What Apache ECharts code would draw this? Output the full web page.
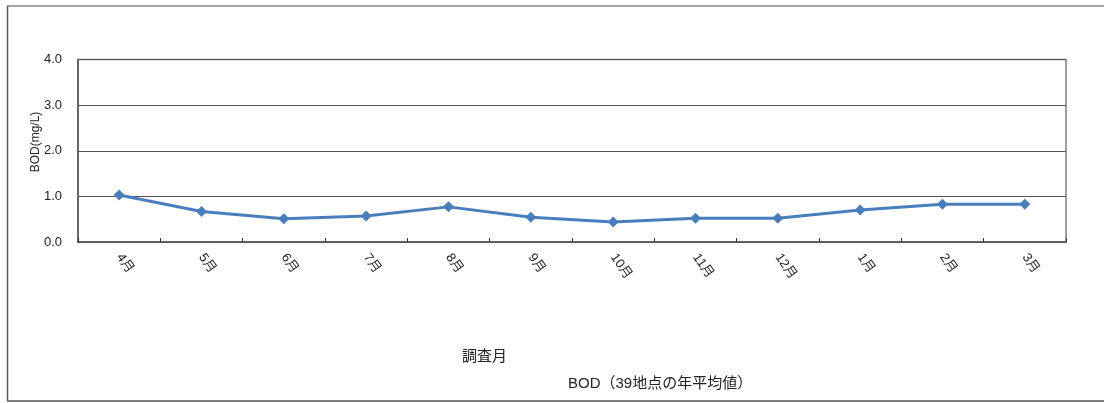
<!DOCTYPE html>
<html>
<head>
<meta charset="utf-8">
<script src="https://cdn.jsdelivr.net/npm/echarts@6/dist/echarts.min.js"></script>
<style>
  html, body { margin: 0; padding: 0; background: #fff; }
  #chart { width: 1104px; height: 403px; }
</style>
</head>
<body>
<div id="chart"></div>
<script>
// Survey months (April through March)
const months = ['4月', '5月', '6月', '7月', '8月', '9月', '10月', '11月', '12月', '1月', '2月', '3月'];
// Monthly BOD, average of 39 sites (mg/L)
const bodValues = [1.03, 0.67, 0.51, 0.57, 0.77, 0.54, 0.44, 0.52, 0.52, 0.70, 0.83, 0.83];
// Value axis ticks
const yMin = 0, yMax = 4, yStep = 1;

const font = '"Liberation Sans", "Noto Sans CJK JP", sans-serif';
const chart = echarts.init(document.getElementById('chart'), null, { renderer: 'canvas' });

chart.setOption({
  backgroundColor: '#fff',
  animation: false,
  textStyle: { fontFamily: font },
  title: [
    {
      text: '調査月', left: 457, top: 344,
      textStyle: { fontSize: 15, fontWeight: 'normal', color: '#222', fontFamily: font }
    },
    {
      text: 'BOD（39地点の年平均値）', left: 563, top: 371,
      textStyle: { fontSize: 15, fontWeight: 'normal', color: '#222', fontFamily: font }
    }
  ],
  grid: {
    left: 78, top: 59.5, right: 38, bottom: 161,
    show: true, borderColor: '#7f7f7f', borderWidth: 1.5, backgroundColor: 'transparent'
  },
  xAxis: {
    type: 'category',
    data: months,
    boundaryGap: true,
    axisLine: { show: true, lineStyle: { color: '#555', width: 1.5 } },
    axisTick: { show: true, inside: true, length: 4, lineStyle: { color: '#333' } },
    axisLabel: {
      rotate: -55, margin: 13, fontSize: 13, color: '#222', fontFamily: font
    }
  },
  yAxis: {
    type: 'value',
    min: yMin, max: yMax, interval: yStep,
    axisLine: { show: true, lineStyle: { color: '#555', width: 1.5 } },
    axisTick: { show: false },
    axisLabel: {
      margin: 16, fontSize: 13, color: '#222', fontFamily: font,
      formatter: v => v.toFixed(1)
    },
    splitLine: { show: true, lineStyle: { color: '#555', width: 1 } }
  },
  series: [{
    type: 'line',
    data: bodValues,
    symbol: 'diamond',
    symbolSize: 11,
    lineStyle: { color: '#4a7ebb', width: 3 },
    itemStyle: { color: '#4a7ebb' },
    z: 5
  }],
  graphic: [
    // value axis title
    {
      type: 'text', x: 36, y: 142, rotation: Math.PI / 2,
      style: {
        text: 'BOD(mg/L)', fill: '#222', font: '12px ' + font,
        align: 'center', verticalAlign: 'middle'
      }
    },
    // outer frame
    { type: 'line', shape: { x1: 7, y1: 6, x2: 1104, y2: 6 }, style: { stroke: '#a6a6a6', lineWidth: 2 } },
    { type: 'line', shape: { x1: 7.5, y1: 6, x2: 7.5, y2: 401 }, style: { stroke: '#595959', lineWidth: 1.5 } },
    { type: 'line', shape: { x1: 7, y1: 401, x2: 1104, y2: 401 }, style: { stroke: '#7f7f7f', lineWidth: 2 } }
  ]
});
</script>
</body>
</html>
